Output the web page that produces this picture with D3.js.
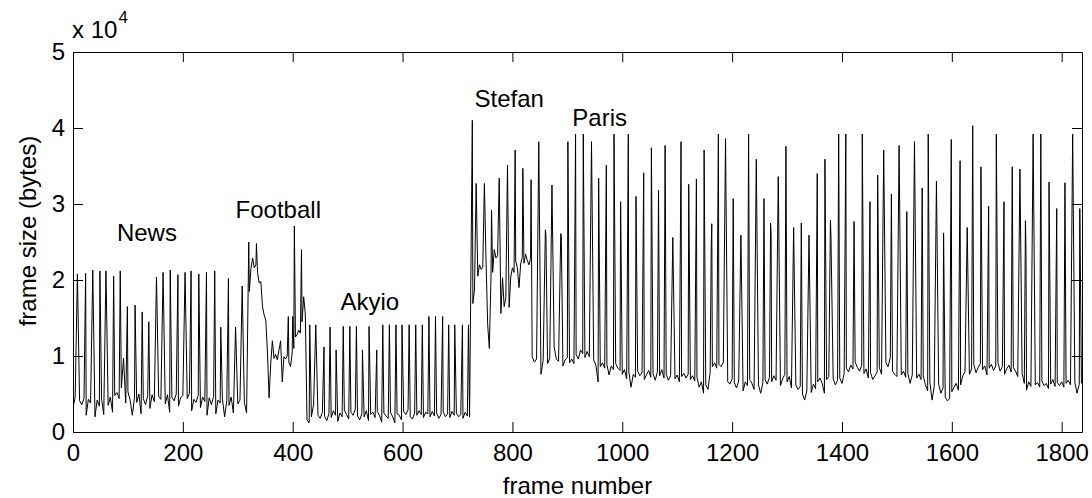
<!DOCTYPE html>
<html>
<head>
<meta charset="utf-8">
<script src="https://cdn.jsdelivr.net/npm/d3@7"></script>
<style>
  body { margin: 0; background: #fff; }
  text { font-family: "Liberation Sans", Arial, Helvetica, sans-serif; fill: #000; }
</style>
</head>
<body>
<svg id="chart" width="1092" height="498"></svg>
<script>
// Frame sizes of the concatenated MPEG trace, in kilobytes (1 kB = 1000 bytes).
// Each sequence: a background track (B/P frames) sampled every `step` frames,
// plus the I-frame peaks as [frame, kB].

const newsStart = 0, newsStep = 4;
const newsBase = [
  3.2,4.6,2.4,4.1,3.6,4.4,2.2,4.3,3.8,4.5,2.0,4.2,3.4,4.4,2.3,4.0,3.5,4.6,2.6,4.8,
  5.2,4.4,5.8,4.9,3.8,5.3,4.2,2.2,4.6,3.9,5.0,2.4,4.4,3.6,4.8,3.1,4.9,4.0,3.3,4.7,
  4.3,5.1,3.7,4.9,2.6,4.6,4.1,5.0,3.4,4.5,4.8,3.0,4.4,5.1,2.8,4.3,3.9,4.8,3.2,4.6,
  4.0,2.2,4.5,3.6,4.7,2.4,4.2,3.8,4.4,2.0,4.1,3.5,4.6,2.5,4.3,3.7,4.2,4.6,3.9,2.5
];
const newsPeaks = [
  [8,20.8],[23,20.9],[36,21.3],[49,21.2],[60,21.2],[74,20.5],[86,21.2],[92,9.7],
  [99,16.5],[113,16.7],[126,15.8],[138,14.5],[152,20.4],[164,21.0],[177,21.3],
  [191,20.7],[204,21.0],[215,21.2],[229,20.8],[243,21.0],[258,21.2],[269,13.8],
  [283,20.2],[296,13.8],[308,19.2]
];

const footballStart = 321, footballStep = 3;
const footballBase = [
  18.5,21.5,22.9,21.6,22.0,21.0,19.6,19.8,16.5,15.4,14.7,10.5,4.5,9.0,12.0,9.7,
  10.2,9.5,10.8,12.0,6.6,9.9,9.6,10.0,9.2,8.6,10.4,11.0,12.5,12.8,13.4,13.0,
  14.5,17.8,15.4
];
const footballPeaks = [[320,25.0],[334,24.8],[392,15.2],[400,15.2],[403,27.1],[416,24.0]];

const akiyoStart = 426, akiyoStep = 4;
const akiyoBase = [
  1.6,1.2,2.0,3.6,3.2,2.2,1.8,2.6,2.1,1.5,2.4,1.9,2.8,2.2,1.4,2.5,2.0,2.9,2.3,1.7,2.6,2.2,3.0,2.1,1.6,
  2.4,2.0,2.8,1.5,2.3,2.6,1.9,2.7,2.2,1.3,2.5,2.1,1.8,2.6,2.0,1.2,2.4,2.2,1.6,2.7,2.3,2.9,2.0,1.7,2.5,
  2.2,2.8,2.3,1.9,2.6,2.4,2.0,2.7,2.1,2.5,1.8,2.3,2.6,2.0,2.4,1.9,2.7,2.2,2.5,2.0,2.3,1.8,2.6,2.1,2.0
];
const akiyoPeaks = [
  [431,14.1],[442,14.1],[457,11.2],[468,13.8],[479,10.8],[492,13.9],[504,13.9],
  [516,13.9],[527,10.8],[539,13.9],[553,10.8],[564,14.1],[576,14.1],[588,14.1],
  [599,14.1],[612,14.1],[624,14.1],[636,14.1],[648,15.2],[660,15.2],[673,15.2],
  [684,14.1],[695,14.1],[709,14.1],[720,14.1]
];

const stefanStart = 728, stefanStep = 3;
const stefanBase = [
  16.9,18.7,19.5,20.5,22.0,21.4,21.6,22.3,22.4,14.1,11.0,20.4,21.0,24.0,22.9,23.2,
  21.0,15.6,20.3,16.5,17.6,19.0,16.4,20.4,21.6,21.0,22.5,21.6,19.0,22.1,23.0,22.2,
  23.4,22.6,22.0,22.8
];
const stefanPeaks = [
  [727,41.0],[734,32.7],[749,32.7],[762,29.2],[776,33.4],[791,35.1],[805,37.1],
  [819,34.7],[834,33.2]
];

const parisStart = 836, parisStep = 4;
const parisBase = [
  9.9,9.2,9.6,8.8,7.6,9.4,9.9,9.0,9.7,10.8,
  11.2,9.6,9.3,10.0,8.7,9.5,9.8,9.1,9.6,9.0,
  10.2,9.6,10.8,10.3,9.8,10.6,9.9,10.4,9.5,8.8,
  6.6,8.6,9.1,8.4,8.9,7.5,8.7,8.2,9.0,8.4,
  8.1,7.6,8.2,7.0,7.9,5.9,7.6,7.2,8.0,7.4,
  7.8,6.9,7.5,8.1,7.2,7.7,6.8,7.9,7.4,8.2,
  7.1,7.6,6.8,7.4,7.7,7.0,7.5,6.6,7.3,7.7,
  7.1,7.6,6.9,7.4,6.7,7.2,5.9,6.6,5.1,6.2,
  5.6,7.8,8.6,9.1,8.4,8.9,8.6,9.2,7.2,6.6,
  6.3,7.0,6.5,5.8,6.7,6.2,5.4,6.6,6.1,6.9,
  6.4,5.6,6.8,6.2,5.1,6.5,6.9,6.3,7.2,6.6,
  7.4,6.8,7.7,6.1,7.0,7.6,6.6,7.3,5.8,6.9,
  6.2,5.6,6.0,5.0,4.2,5.4,6.1,5.2,6.3,5.7,
  6.6,7.1,6.4,5.1,6.9,7.3,6.5,7.0,6.2,6.8,
  7.1,6.4,7.7,8.4,7.9,8.8,8.3,9.2,8.5,8.0,
  8.8,7.7,8.3,7.1,7.8,6.9,7.4,7.9,8.5,7.6,
  8.3,9.1,8.6,9.8,8.0,7.6,7.3,7.9,7.5,8.0,
  7.2,7.7,6.4,7.5,7.9,7.1,7.6,6.9,7.4,6.2,
  5.4,6.6,4.2,6.0,5.6,6.3,5.1,5.8,4.6,4.1,
  4.4,5.3,5.9,6.4,5.5,6.2,7.4,7.9,8.6,7.6,
  8.3,8.9,7.8,8.5,9.0,8.2,8.7,7.5,8.4,8.9,
  8.1,8.7,9.1,8.0,8.6,7.6,8.3,8.8,7.9,8.5,
  8.0,7.3,8.2,7.7,6.4,5.5,6.6,6.0,6.8,6.2,
  6.5,5.9,6.7,6.1,6.4,5.7,6.3,6.9,6.0,6.5,
  6.1,6.6,5.9,6.4,6.8,6.2,5.8,6.5,5.1,6.3,
  6.4
];
const parisPeaks = [
  [848,38.2],[860,26.6],[861,26.0],[872,32.5],[888,26.1],[889,25.8],[901,38.2],
  [915,39.2],[929,39.2],[944,38.2],[957,33.4],[971,35.1],[985,39.2],[997,30.3],
  [1011,39.2],[1025,31.0],[1039,34.1],[1053,37.4],[1066,31.8],[1078,37.7],
  [1092,25.6],[1107,38.2],[1121,32.6],[1135,33.3],[1149,37.1],[1162,24.5],
  [1163,27.4],[1175,39.2],[1188,38.6],[1202,30.7],[1216,25.9],[1230,39.2],
  [1244,35.9],[1258,30.7],[1270,27.5],[1271,26.0],[1284,33.6],[1298,37.6],
  [1312,26.9],[1326,27.5],[1340,25.9],[1355,34.0],[1369,35.9],[1379,27.9],
  [1380,25.5],[1394,39.2],[1407,39.2],[1422,27.7],[1437,39.2],[1451,30.3],
  [1465,33.8],[1476,37.1],[1490,31.3],[1504,37.7],[1518,29.0],[1532,38.2],
  [1546,32.1],[1557,39.2],[1572,33.0],[1585,26.2],[1599,38.5],[1615,35.7],
  [1628,26.9],[1638,40.3],[1653,34.9],[1667,29.7],[1681,39.2],[1695,30.3],
  [1710,34.9],[1724,34.6],[1734,27.8],[1735,24.0],[1748,39.2],[1762,39.2],
  [1777,32.9],[1791,29.4],[1806,32.8],[1820,39.2],[1833,29.4]
];

const xTickValues = [0, 200, 400, 600, 800, 1000, 1200, 1400, 1600, 1800];
const yTickValues = [0, 1, 2, 3, 4, 5];            // in units of 10^4 bytes
const sequenceNames = ["News", "Football", "Akyio", "Stefan", "Paris"];

// ---- layout ----
const margin = { left: 73, top: 52 };
const plotW = 1082 - margin.left, plotH = 432 - margin.top;
const lastFrame = 1837;
const font = 24;

// Where each sequence name sits, in data coordinates (frame, kB).
const labelAnchors = [[80, 25.1], [296, 28.2], [487, 16.0], [731, 42.8], [909, 40.3]];

const svg = d3.select("#chart");

const x = d3.scaleLinear().domain([0, lastFrame]).range([0, plotW]);
const y = d3.scaleLinear().domain([0, 50000]).range([plotH, 0]);

// Merge background tracks and peaks into one frame-ordered series.
const sequences = [
  { start: newsStart, step: newsStep, base: newsBase, peaks: newsPeaks },
  { start: footballStart, step: footballStep, base: footballBase, peaks: footballPeaks },
  { start: akiyoStart, step: akiyoStep, base: akiyoBase, peaks: akiyoPeaks },
  { start: stefanStart, step: stefanStep, base: stefanBase, peaks: stefanPeaks },
  { start: parisStart, step: parisStep, base: parisBase, peaks: parisPeaks }
];
const byFrame = new Map();
sequences.forEach(s => {
  s.base.forEach((v, i) => byFrame.set(s.start + i * s.step, v));
  s.peaks.forEach(([f, v]) => byFrame.set(f, v));
});
const trace = Array.from(byFrame, ([frame, kb]) => ({ frame, bytes: kb * 1000 }))
  .sort((a, b) => a.frame - b.frame);

const g = svg.append("g").attr("transform", `translate(${margin.left},${margin.top})`);

g.append("clipPath").attr("id", "plot-clip")
  .append("rect").attr("width", plotW).attr("height", plotH);

// trace
g.append("path")
  .datum(trace)
  .attr("clip-path", "url(#plot-clip)")
  .attr("fill", "none")
  .attr("stroke", "#000")
  .attr("stroke-width", 1)
  .attr("stroke-linejoin", "bevel")
  .attr("d", d3.line().x(d => x(d.frame)).y(d => y(d.bytes)));

// axes: boxed, ticks pointing inward on all four sides
const tick = 10;
function styleAxis(sel) {
  sel.selectAll("path.domain").attr("stroke", "#000").attr("stroke-width", 1);
  sel.selectAll(".tick line").attr("stroke", "#000").attr("stroke-width", 1);
  sel.selectAll(".tick text").attr("font-size", font)
    .attr("font-family", '"Liberation Sans", Arial, sans-serif').attr("fill", "#000");
}

g.append("g").attr("transform", `translate(0,${plotH})`)
  .call(d3.axisBottom(x).tickValues(xTickValues).tickSizeInner(-tick).tickSizeOuter(0)
    .tickPadding(12).tickFormat(d3.format("d")))
  .call(styleAxis);

g.append("g")
  .call(d3.axisTop(x).tickValues(xTickValues).tickSizeInner(-tick).tickSizeOuter(0)
    .tickFormat(""))
  .call(styleAxis);

g.append("g")
  .call(d3.axisLeft(y).tickValues(yTickValues.map(v => v * 10000)).tickSizeInner(-tick)
    .tickSizeOuter(0).tickPadding(8).tickFormat(d => d / 10000))
  .call(styleAxis);

g.append("g").attr("transform", `translate(${plotW},0)`)
  .call(d3.axisRight(y).tickValues(yTickValues.map(v => v * 10000)).tickSizeInner(-tick)
    .tickSizeOuter(0).tickFormat(""))
  .call(styleAxis);

// exponent marker above the y axis
const expo = svg.append("text").attr("x", 72).attr("y", 38).attr("font-size", font);
expo.append("tspan").text("x 10");
expo.append("tspan").attr("font-size", 17).attr("dy", -15).attr("dx", 1).text("4");

// sequence names
g.selectAll("text.seq")
  .data(sequenceNames)
  .join("text")
  .attr("class", "seq")
  .attr("x", (d, i) => x(labelAnchors[i][0]))
  .attr("y", (d, i) => y(labelAnchors[i][1] * 1000))
  .attr("font-size", font)
  .text(d => d);

// axis titles
svg.append("text")
  .attr("x", margin.left + plotW / 2).attr("y", 494)
  .attr("text-anchor", "middle").attr("font-size", font)
  .text("frame number");

svg.append("text")
  .attr("transform", "translate(36,231) rotate(-90)")
  .attr("text-anchor", "middle").attr("font-size", font)
  .text("frame size (bytes)");
</script>
</body>
</html>
